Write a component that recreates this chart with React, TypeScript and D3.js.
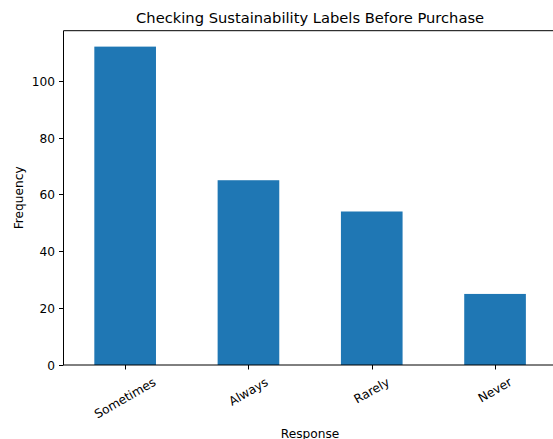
import React, { useEffect, useRef } from "react";
import * as d3 from "d3";

const categories = ["Sometimes", "Always", "Rarely", "Never"];
const values = [112, 65, 54, 25];
const yTicks = [0, 20, 40, 60, 80, 100];
const title = "Checking Sustainability Labels Before Purchase";
const xLabel = "Response";
const yLabel = "Frequency";

const W = 553;
const H = 439;
const FONT = "DejaVu Sans, sans-serif";
const TICK_FS = 12.2;
const TITLE_FS = 14.7;

export default function App() {
  const ref = useRef<SVGSVGElement>(null);

  useEffect(() => {
    const svg = d3.select(ref.current);
    svg.selectAll("*").remove();

    const left = 63.5;
    const top = 30.7;
    const bottom = 365;
    const step = 123.3;
    const right = left + step * categories.length;

    const x = d3
      .scaleBand()
      .domain(categories)
      .range([left, right])
      .paddingInner(0.5)
      .paddingOuter(0.25);
    const yMax = d3.max(values)! * 1.05;
    const y = d3.scaleLinear().domain([0, yMax]).range([bottom, top]);

    // bars
    svg
      .append("g")
      .selectAll("rect")
      .data(values)
      .join("rect")
      .attr("x", (_, i) => x(categories[i])!)
      .attr("width", x.bandwidth())
      .attr("y", (d) => y(d))
      .attr("height", (d) => bottom - y(d))
      .attr("fill", "#1f77b4");

    // spines
    const sp = svg.append("g").attr("stroke", "#000").attr("stroke-width", 1).attr("fill", "none");
    sp.append("line").attr("x1", left).attr("x2", left).attr("y1", top).attr("y2", bottom);
    sp.append("line").attr("x1", left).attr("x2", right).attr("y1", bottom).attr("y2", bottom);
    sp.append("line").attr("x1", left).attr("x2", right).attr("y1", top).attr("y2", top);
    sp.append("line").attr("x1", right).attr("x2", right).attr("y1", top).attr("y2", bottom);

    // y ticks
    const yg = svg.append("g");
    yTicks.forEach((t) => {
      const yy = Math.round(y(t)) + 0.5;
      yg.append("line")
        .attr("x1", left - 4.5)
        .attr("x2", left)
        .attr("y1", yy)
        .attr("y2", yy)
        .attr("stroke", "#000")
        .attr("stroke-width", 1);
      yg.append("text")
        .attr("x", left - 8.5)
        .attr("y", yy)
        .attr("text-anchor", "end")
        .attr("dominant-baseline", "central")
        .attr("font-family", FONT)
        .attr("font-size", TICK_FS)
        .attr("fill", "#000")
        .text(String(t));
    });

    // x ticks + rotated labels
    const xg = svg.append("g");
    categories.forEach((c) => {
      const cx = x(c)! + x.bandwidth() / 2;
      const xx = Math.round(cx) + 0.5;
      xg.append("line")
        .attr("x1", xx)
        .attr("x2", xx)
        .attr("y1", bottom)
        .attr("y2", bottom + 4.5)
        .attr("stroke", "#000")
        .attr("stroke-width", 1);
      const t = xg
        .append("text")
        .attr("text-anchor", "middle")
        .attr("dominant-baseline", "central")
        .attr("font-family", FONT)
        .attr("font-size", TICK_FS)
        .attr("fill", "#000")
        .text(c);
      const w = (t.node() as SVGTextElement).getComputedTextLength();
      const h = TICK_FS * 1.16;
      const rotH = w * Math.sin(Math.PI / 6) + h * Math.cos(Math.PI / 6);
      const cy = bottom + 10 + rotH / 2;
      t.attr("transform", `translate(${cx},${cy}) rotate(-30)`);
    });

    // axis labels
    svg
      .append("text")
      .attr("x", (left + right) / 2)
      .attr("y", 437.5)
      .attr("text-anchor", "middle")
      .attr("font-family", FONT)
      .attr("font-size", TICK_FS)
      .attr("fill", "#000")
      .text(xLabel);
    svg
      .append("text")
      .attr("transform", `translate(23,${(top + bottom) / 2}) rotate(-90)`)
      .attr("text-anchor", "middle")
      .attr("font-family", FONT)
      .attr("font-size", TICK_FS)
      .attr("fill", "#000")
      .text(yLabel);

    // title
    svg
      .append("text")
      .attr("x", (left + right) / 2)
      .attr("y", 23)
      .attr("text-anchor", "middle")
      .attr("font-family", FONT)
      .attr("font-size", TITLE_FS)
      .attr("fill", "#000")
      .text(title);
  }, []);

  return (
    <svg
      ref={ref}
      width={W}
      height={H}
      style={{ position: "absolute", left: 0, top: 0, background: "#fff" }}
    />
  );
}
